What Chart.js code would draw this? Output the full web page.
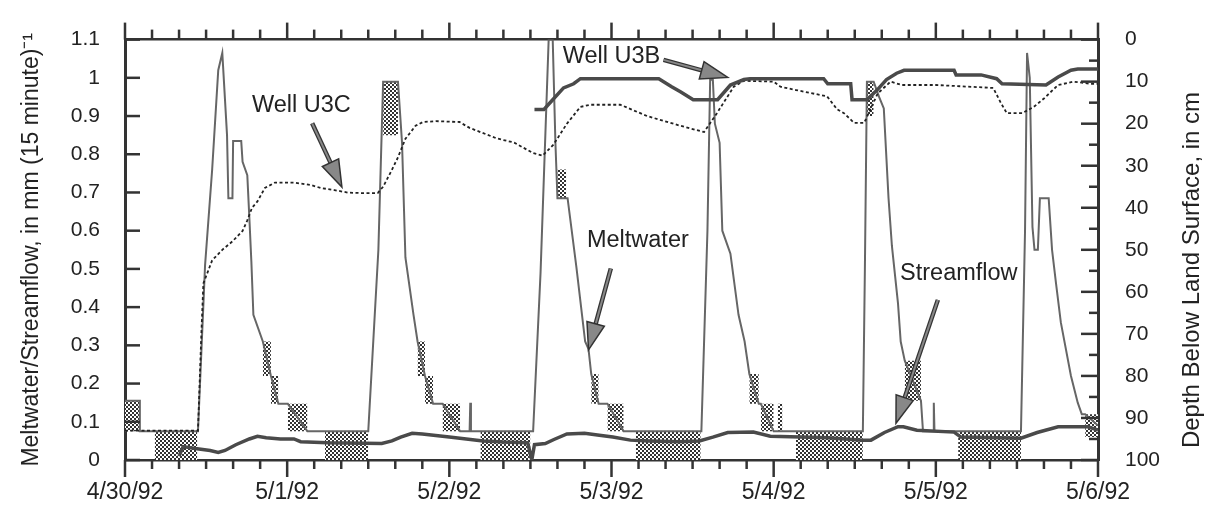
<!DOCTYPE html>
<html><head><meta charset="utf-8">
<script src="https://cdn.jsdelivr.net/npm/chart.js@4/dist/chart.umd.min.js"></script>
<style>html,body{margin:0;padding:0;background:#fff}#wrap{width:1205px;height:505px}</style>
</head><body><div id="wrap"><canvas id="c" width="1205" height="505"></canvas></div>
<script>
// ---- axis ticks / labels ----
const xTickHours = [0, 24, 48, 72, 96, 120, 144];
const xTickLabels = ['4/30/92', '5/1/92', '5/2/92', '5/3/92', '5/4/92', '5/5/92', '5/6/92'];
const yTickValues = [0, 0.1, 0.2, 0.3, 0.4, 0.5, 0.6, 0.7, 0.8, 0.9, 1.0, 1.1];
const yTickLabels = ['0', '0.1', '0.2', '0.3', '0.4', '0.5', '0.6', '0.7', '0.8', '0.9', '1', '1.1'];
const depthTickValues = [0, 10, 20, 30, 40, 50, 60, 70, 80, 90, 100];

// ---- Meltwater, mm per 15 min (hours after 4/30/92 00:00) ----
const meltHours = [0, 2.2, 2.2, 4.4, 10.8, 11.85, 12.9, 13.8, 14.4, 15.1, 15.3, 15.9, 16.0, 17.2, 17.4, 18.1, 18.4, 18.7, 19.0, 20.4, 21.6, 22.7, 24.1, 27.0, 29.6, 36.0, 37.5, 38.2, 40.4, 41.0, 41.5, 42.7, 43.3, 44.4, 45.6, 47.0, 49.6, 51.0, 51.1, 51.2, 52.6, 60.4, 61.5, 62.7, 63.3, 63.7, 64.0, 65.5, 66.8, 68.1, 68.6, 69.0, 70.1, 71.4, 73.8, 75.6, 85.3, 86.2, 86.6, 87.0, 87.3, 88.0, 88.4, 89.6, 90.8, 91.7, 92.4, 93.8, 94.1, 96.0, 99.3, 109.2, 109.5, 109.8, 110.8, 111.6, 112.3, 113.0, 113.5, 114.4, 114.8, 115.4, 117.8, 118.1, 119.6, 119.7, 119.8, 123.3, 132.6, 133.2, 133.5, 133.9, 134.3, 134.6, 135.1, 135.4, 136.7, 137.2, 137.8, 138.5, 140.0, 141.0, 141.6, 142.1, 144];
const meltValues = [0.155, 0.155, 0.075, 0.075, 0.075, 0.51, 0.76, 1.02, 1.065, 0.85, 0.685, 0.685, 0.835, 0.835, 0.78, 0.745, 0.635, 0.52, 0.38, 0.31, 0.22, 0.147, 0.147, 0.075, 0.075, 0.075, 0.55, 0.99, 0.99, 0.83, 0.53, 0.38, 0.31, 0.22, 0.147, 0.147, 0.075, 0.075, 0.15, 0.075, 0.075, 0.075, 0.49, 1.1, 1.1, 0.83, 0.685, 0.685, 0.505, 0.31, 0.29, 0.225, 0.147, 0.147, 0.075, 0.075, 0.075, 0.6, 0.995, 0.995, 0.88, 0.83, 0.6, 0.54, 0.38, 0.31, 0.225, 0.147, 0.147, 0.075, 0.075, 0.075, 0.5, 0.99, 0.99, 0.95, 0.92, 0.685, 0.56, 0.41, 0.31, 0.26, 0.155, 0.075, 0.075, 0.15, 0.075, 0.075, 0.075, 0.6, 1.065, 1.0, 0.61, 0.55, 0.55, 0.685, 0.685, 0.55, 0.46, 0.36, 0.22, 0.15, 0.12, 0.12, 0.09];

// rapidly alternating meltwater readings (shaded blocks)
const hatchStart = [0, 4.4, 20.4, 21.6, 24.1, 29.6, 38.2, 43.3, 44.4, 47.0, 52.6, 64.0, 69.0, 71.4, 75.6, 92.4, 94.1, 96.6, 99.3, 109.8, 115.4, 123.3, 142.1];
const hatchEnd   = [2.2, 10.7, 21.6, 22.7, 27.0, 36.0, 40.4, 44.4, 45.6, 49.6, 60.0, 65.3, 70.1, 73.8, 85.2, 93.8, 96.0, 97.3, 109.2, 110.8, 117.8, 132.6, 144];
const hatchLow   = [0.075, 0, 0.22, 0.147, 0.075, 0, 0.85, 0.22, 0.147, 0.075, 0, 0.685, 0.147, 0.075, 0, 0.147, 0.075, 0.075, 0, 0.9, 0.155, 0, 0.06];
const hatchHigh  = [0.155, 0.075, 0.31, 0.22, 0.147, 0.075, 0.99, 0.31, 0.22, 0.147, 0.075, 0.76, 0.225, 0.147, 0.075, 0.225, 0.147, 0.147, 0.075, 0.99, 0.26, 0.075, 0.12];

// ---- Streamflow, mm per 15 min ----
const streamHours = [8.0, 8.6, 10.4, 12.6, 13.8, 14.8, 16.4, 18.4, 19.6, 20.9, 23.0, 25.0, 26.0, 30.0, 38.0, 39.5, 40.8, 42.5, 44.0, 48.0, 50.5, 53.0, 56.0, 59.6, 60.2, 60.6, 62.2, 63.4, 65.4, 68.0, 70.2, 72.2, 74.8, 77.5, 82.0, 85.0, 87.0, 89.2, 93.0, 95.5, 100.0, 104.0, 109.2, 110.4, 112.4, 114.4, 115.2, 117.2, 122.7, 123.7, 132.6, 135.0, 138.1, 142.5, 144];
const streamValues = [0.01, 0.035, 0.03, 0.025, 0.02, 0.025, 0.04, 0.055, 0.062, 0.058, 0.055, 0.055, 0.048, 0.045, 0.043, 0.05, 0.06, 0.07, 0.068, 0.06, 0.055, 0.05, 0.047, 0.045, 0.0, 0.04, 0.043, 0.053, 0.068, 0.07, 0.065, 0.06, 0.052, 0.05, 0.048, 0.05, 0.06, 0.072, 0.073, 0.062, 0.06, 0.058, 0.052, 0.052, 0.072, 0.087, 0.087, 0.078, 0.073, 0.06, 0.057, 0.072, 0.087, 0.087, 0.078];

// ---- Well U3C, depth below land surface (cm) ----
const u3cHours = [0, 10.8, 11.3, 11.6, 12.9, 14.4, 15.9, 17.4, 18.1, 18.8, 19.6, 20.7, 22.2, 25.0, 27.5, 29.0, 31.0, 33.0, 35.0, 37.4, 38.2, 39.5, 40.4, 41.5, 43.0, 44.1, 46.0, 49.5, 51.0, 52.6, 55.0, 57.6, 60.4, 61.8, 63.4, 65.4, 67.4, 68.9, 73.3, 77.3, 82.2, 85.7, 87.6, 90.1, 91.6, 96.0, 97.0, 99.3, 103.9, 105.4, 106.4, 107.9, 109.4, 111.4, 113.3, 115.0, 120.0, 128.5, 129.6, 130.5, 132.8, 134.5, 136.0, 138.1, 140.4, 142.8, 144];
const u3cDepth = [93, 93, 70, 58, 52.5, 50, 48, 45.5, 43, 40, 38.5, 35.3, 34, 34, 34.6, 35.3, 35.8, 36.4, 36.5, 36.5, 35, 31, 28, 23.6, 20.5, 19.6, 19.4, 19.6, 21, 22, 23.5, 24.5, 27, 27.6, 25, 20, 16, 15.5, 15.5, 18.2, 20.5, 22, 17.5, 11.2, 9.8, 10, 11.2, 12, 13.5, 16.6, 17.5, 19.8, 19.8, 12.8, 10, 10.8, 10.8, 11.5, 15, 17.5, 17.5, 16, 14, 10.8, 10, 10.5, 10.5];

// ---- Well U3B, depth below land surface (cm) ----
const u3bHours = [60.6, 62.0, 63.2, 64.9, 66.4, 67.4, 79.0, 80.9, 82.2, 84.1, 87.7, 89.6, 91.6, 92.5, 103.4, 104.0, 107.4, 107.6, 109.8, 111.3, 112.7, 114.2, 115.3, 122.7, 123.0, 126.7, 129.0, 129.8, 136.3, 138.1, 140.0, 141.0, 144];
const u3bDepth = [16.6, 16.6, 14.5, 11.5, 10.5, 9.3, 9.3, 11.2, 12.4, 14.3, 14.3, 10.8, 9.5, 9.3, 9.3, 10.5, 10.5, 14.3, 14.3, 12, 9.5, 8, 7.3, 7.3, 8.4, 8.4, 9.3, 10.5, 10.8, 8.9, 7.3, 7, 7];

const FONT = "'Liberation Sans', Arial, Helvetica, sans-serif";
const toXY = (xs, ys) => xs.map((x, i) => ({x: x, y: ys[i]}));

// checker pattern for shaded blocks
function makePattern() {
  const p = document.createElement('canvas');
  p.width = 4; p.height = 4;
  const g = p.getContext('2d');
  g.fillStyle = '#fff'; g.fillRect(0, 0, 4, 4);
  g.fillStyle = '#333';
  g.fillRect(0, 0, 2, 2); g.fillRect(2, 2, 2, 2);
  return g.createPattern(p, 'repeat');
}
const hatchPattern = makePattern();

const datasets = [
  {label: 'Streamflow', data: toXY(streamHours, streamValues), yAxisID: 'y', xAxisID: 'x',
   borderColor: '#4a4a4a', borderWidth: 3.5, pointRadius: 0, tension: 0, order: 0, fill: false},
  {label: 'Well U3B', data: toXY(u3bHours, u3bDepth), yAxisID: 'y2', xAxisID: 'x',
   borderColor: '#4a4a4a', borderWidth: 3.5, pointRadius: 0, tension: 0, order: 1, fill: false},
  {label: 'Well U3C', data: toXY(u3cHours, u3cDepth), yAxisID: 'y2', xAxisID: 'x',
   borderColor: '#222', borderWidth: 1.8, borderDash: [3, 2.5], pointRadius: 0, tension: 0, order: 2, fill: false},
  {label: 'Meltwater', data: toXY(meltHours, meltValues), yAxisID: 'y', xAxisID: 'x',
   borderColor: '#666', borderWidth: 2, pointRadius: 0, tension: 0, order: 3, fill: false}
];
hatchStart.forEach((s, i) => {
  datasets.push({label: 'Meltwater shade ' + i,
    data: [{x: s, y: hatchHigh[i]}, {x: hatchEnd[i], y: hatchHigh[i]}],
    yAxisID: 'y', xAxisID: 'x', borderWidth: 0, borderColor: 'rgba(0,0,0,0)',
    backgroundColor: hatchPattern, fill: {value: hatchLow[i]}, pointRadius: 0, order: 4});
});

const annotations = [
  {text: 'Well U3C', x: 26.1, y: 0.927, from: [27.7, 0.881], to: [32.1, 0.714]},
  {text: 'Well U3B', x: 72.0, y: 1.055, from: [79.7, 1.047], to: [89.2, 1.001]},
  {text: 'Meltwater', x: 75.9, y: 0.573, from: [71.9, 0.501], to: [68.6, 0.288]},
  {text: 'Streamflow', x: 123.4, y: 0.488, from: [120.3, 0.419], to: [114.1, 0.096]}
];

const decor = {
  id: 'decor',
  afterDraw(chart) {
    const {ctx, chartArea: a, scales} = chart;
    const sx = scales.x, sy = scales.y, sy2 = scales.y2;
    ctx.save();
    ctx.strokeStyle = '#333';
    ctx.lineWidth = 2.5;
    ctx.lineCap = 'butt';
    const seg = (x1, y1, x2, y2) => { ctx.beginPath(); ctx.moveTo(x1, y1); ctx.lineTo(x2, y2); ctx.stroke(); };
    // time ticks every 4 hours, longer at midnight
    for (let h = 0; h <= 144; h += 4) {
      const px = sx.getPixelForValue(h);
      const major = xTickHours.includes(h);
      seg(px, a.bottom, px, a.bottom + (major ? 17 : 9));
      seg(px, a.top, px, a.top - (major ? 17 : 10));
    }
    // left ticks, inward
    yTickValues.forEach(v => { const py = sy.getPixelForValue(v); seg(a.left, py, a.left + 15, py); });
    // right ticks, inward, every 5 cm
    for (let d = 0; d <= 100; d += 5) {
      const py = sy2.getPixelForValue(d);
      seg(a.right, py, a.right - (d % 10 === 0 ? 17 : 9), py);
    }
    // right axis title, reading upward
    ctx.fillStyle = '#222';
    ctx.font = '24px ' + FONT;
    ctx.textAlign = 'center'; ctx.textBaseline = 'middle';
    ctx.save();
    ctx.translate(1192, 270);
    ctx.rotate(-Math.PI / 2);
    ctx.fillText('Depth Below Land Surface, in cm', 0, 0);
    ctx.restore();
    // annotations
    ctx.font = '23.5px ' + FONT;
    annotations.forEach(an => {
      ctx.fillStyle = '#222';
      ctx.fillText(an.text, sx.getPixelForValue(an.x), sy.getPixelForValue(an.y));
      const x1 = sx.getPixelForValue(an.from[0]), y1 = sy.getPixelForValue(an.from[1]);
      const x2 = sx.getPixelForValue(an.to[0]), y2 = sy.getPixelForValue(an.to[1]);
      const ang = Math.atan2(y2 - y1, x2 - x1);
      const hl = 27, hw = 9;
      const bx = x2 - hl * Math.cos(ang), by = y2 - hl * Math.sin(ang);
      ctx.strokeStyle = '#333'; ctx.lineWidth = 4.5;
      seg(x1, y1, bx, by);
      ctx.strokeStyle = '#888'; ctx.lineWidth = 2;
      seg(x1, y1, bx, by);
      ctx.beginPath();
      ctx.moveTo(x2, y2);
      ctx.lineTo(bx + hw * Math.sin(ang), by - hw * Math.cos(ang));
      ctx.lineTo(bx - hw * Math.sin(ang), by + hw * Math.cos(ang));
      ctx.closePath();
      ctx.fillStyle = '#888'; ctx.fill();
      ctx.strokeStyle = '#333'; ctx.lineWidth = 1.5; ctx.stroke();
    });
    ctx.restore();
  }
};

new Chart(document.getElementById('c'), {
  type: 'line',
  data: {datasets: datasets},
  options: {
    responsive: false, animation: false, devicePixelRatio: 1,
    layout: {padding: 0},
    plugins: {legend: {display: false}, tooltip: {enabled: false}},
    scales: {
      x: {type: 'linear', position: 'bottom', min: 0, max: 144,
        afterBuildTicks: s => { s.ticks = xTickHours.map(v => ({value: v})); },
        afterFit: s => { s.height = 45; },
        ticks: {autoSkip: false, maxRotation: 0, padding: 19, color: '#222', font: {family: FONT, size: 23},
          callback: v => xTickLabels[xTickHours.indexOf(v)]},
        grid: {display: false, drawTicks: false},
        border: {display: true, color: '#333', width: 2.5}},
      x2: {type: 'linear', position: 'top', min: 0, max: 144,
        afterFit: s => { s.height = 32; },
        ticks: {display: false}, grid: {display: false, drawTicks: false},
        border: {display: true, color: '#333', width: 2.5}},
      y: {type: 'linear', position: 'left', min: 0, max: 1.1,
        afterBuildTicks: s => { s.ticks = yTickValues.map(v => ({value: v})); },
        afterFit: s => { s.width = 125; },
        ticks: {padding: 25, color: '#222', font: {family: FONT, size: 21},
          callback: v => yTickLabels[yTickValues.indexOf(v)]},
        grid: {display: false, drawTicks: false},
        border: {display: true, color: '#333', width: 3},
        title: {display: true, text: 'Meltwater/Streamflow, in mm (15 minute)\u207B\u00B9', color: '#222',
          font: {family: FONT, size: 23}, padding: {top: 18, bottom: 0}}},
      y2: {type: 'linear', position: 'right', min: 0, max: 100, reverse: true,
        afterBuildTicks: s => { s.ticks = depthTickValues.map(v => ({value: v})); },
        afterFit: s => { s.width = 107; },
        ticks: {padding: 27, color: '#222', font: {family: FONT, size: 21}},
        grid: {display: false, drawTicks: false},
        border: {display: true, color: '#333', width: 3}}
    }
  },
  plugins: [decor]
});
</script>
</body></html>
